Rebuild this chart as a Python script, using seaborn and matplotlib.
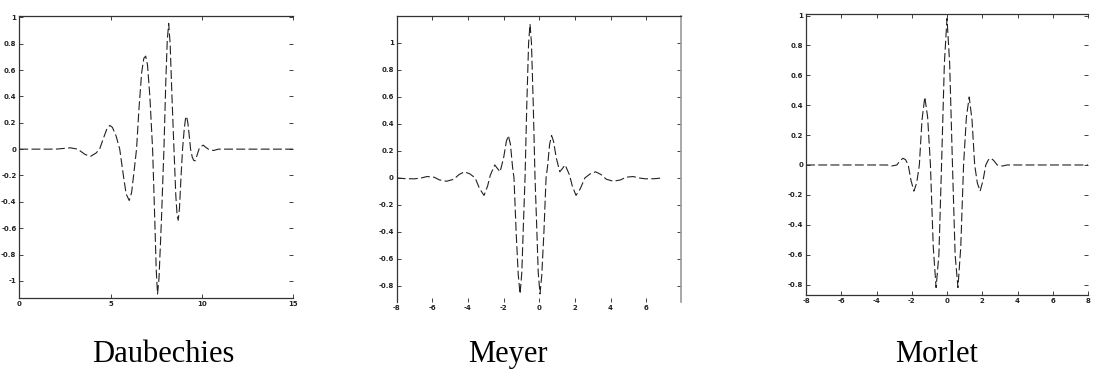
import numpy as np
import pandas as pd
import seaborn as sns
import matplotlib.pyplot as plt

# values
daub_x = [0, 1, 2, 2.4, 2.8, 3.2, 3.6, 3.9, 4.2, 4.4, 4.6, 4.8, 4.96, 5.1, 5.3, 5.5,
          5.7, 5.85, 6.02, 6.15, 6.3, 6.42, 6.55, 6.7, 6.82, 6.92, 7.02, 7.15, 7.3,
          7.4, 7.5, 7.57, 7.65, 7.78, 7.92, 8.02, 8.1, 8.18, 8.26, 8.36, 8.47, 8.57,
          8.64, 8.70, 8.77, 8.86, 8.94, 9.03, 9.1, 9.16, 9.23, 9.3, 9.38, 9.47, 9.55,
          9.62, 9.7, 9.77, 9.84, 9.95, 10.07, 10.2, 10.35, 10.5, 10.65, 10.9, 11.5, 15]
daub_y = [0, 0, 0, 0.005, 0.01, 0.0, -0.04, -0.055, -0.03, 0.0, 0.08, 0.155, 0.18,
          0.165, 0.10, 0.0, -0.2, -0.34, -0.39, -0.33, -0.15, 0.0, 0.3, 0.58, 0.69,
          0.706, 0.64, 0.4, 0.0, -0.45, -0.92, -1.10, -0.98, -0.55, 0.0, 0.5, 0.82,
          0.955, 0.8, 0.4, 0.0, -0.35, -0.5, -0.54, -0.45, -0.2, 0.0, 0.15, 0.23, 0.25,
          0.2, 0.11, 0.0, -0.06, -0.085, -0.089, -0.06, -0.03, 0.0, 0.02, 0.03, 0.015,
          0.0, -0.008, -0.01, 0.0, 0, 0]

meyer_x = [-8.0, -7.5, -7.0, -6.6, -6.3, -5.9, -5.6, -5.2, -4.8, -4.5, -4.2, -3.9,
           -3.6, -3.35, -3.1, -2.9, -2.75, -2.5, -2.35, -2.2, -2.0, -1.85, -1.74,
           -1.62, -1.5, -1.42, -1.3, -1.18, -1.08, -0.98, -0.88, -0.8, -0.7, -0.6,
           -0.52, -0.44, -0.34, -0.24, -0.16, -0.06, 0.04, 0.14, 0.26, 0.38, 0.46,
           0.58, 0.69, 0.8, 0.95, 1.15, 1.3, 1.45, 1.7, 1.85, 2.06, 2.3, 2.56, 2.86,
           3.16, 3.46, 3.76, 4.16, 4.56, 4.86, 5.26, 5.56, 5.96, 6.46, 6.96]
meyer_y = [0.0, -0.006, -0.007, 0.0, 0.01, 0.005, -0.015, -0.025, -0.01, 0.025, 0.045,
           0.03, 0.0, -0.08, -0.13, -0.06, 0.02, 0.096, 0.07, 0.045, 0.15, 0.27, 0.314,
           0.25, 0.08, 0.0, -0.4, -0.72, -0.86, -0.7, -0.3, 0.0, 0.55, 1.0, 1.14, 1.0,
           0.55, 0.0, -0.3, -0.7, -0.86, -0.72, -0.4, 0.0, 0.08, 0.25, 0.314, 0.27,
           0.15, 0.045, 0.07, 0.096, 0.02, -0.06, -0.13, -0.08, 0.0, 0.03, 0.045,
           0.025, -0.01, -0.025, -0.015, 0.005, 0.01, 0.0, -0.007, -0.006, 0.0]

morlet_x = [-8, -3.4, -3.15, -2.85, -2.65, -2.5, -2.35, -2.2, -2.05, -1.88, -1.72,
            -1.57, -1.42, -1.26, -1.1, -0.94, -0.78, -0.62, -0.46, -0.31, -0.15, 0,
            0.15, 0.31, 0.46, 0.62, 0.78, 0.94, 1.1, 1.26, 1.42, 1.57, 1.72, 1.88,
            2.05, 2.2, 2.35, 2.5, 2.65, 2.85, 3.15, 3.4, 8]
morlet_y = [0, 0, -0.007, 0.0, 0.03, 0.045, 0.035, 0.0, -0.1, -0.175, -0.12, 0.0,
            0.3, 0.455, 0.32, 0.0, -0.55, -0.82, -0.6, 0.0, 0.68, 0.98, 0.68, 0.0,
            -0.6, -0.82, -0.55, 0.0, 0.32, 0.455, 0.3, 0.0, -0.12, -0.175, -0.1, 0.0,
            0.035, 0.045, 0.03, 0.0, -0.007, 0, 0]

names = ['Daubechies', 'Meyer', 'Morlet']
xticks = [[0, 5, 10, 15], [-8, -6, -4, -2, 0, 2, 4, 6], [-8, -6, -4, -2, 0, 2, 4, 6, 8]]
yticks = [[-1, -0.8, -0.6, -0.4, -0.2, 0, 0.2, 0.4, 0.6, 0.8, 1],
          [-0.8, -0.6, -0.4, -0.2, 0, 0.2, 0.4, 0.6, 0.8, 1],
          [-0.8, -0.6, -0.4, -0.2, 0, 0.2, 0.4, 0.6, 0.8, 1]]

sns.set_style('ticks')
plt.rcParams['font.family'] = ['DejaVu Sans']

fig = plt.figure(figsize=(10.95, 3.69), dpi=100)
boxes = [[0.0176, 0.1924, 0.2502, 0.764],
         [0.3623, 0.1816, 0.2596, 0.775],
         [0.7361, 0.2005, 0.2575, 0.7615]]
limits = [((0, 15), (-1.13, 1.01)), ((-8, 7.95), (-0.92, 1.2)), ((-8, 8), (-0.87, 1.01))]
data = [(daub_x, daub_y), (meyer_x, meyer_y), (morlet_x, morlet_y)]
centers = [163, 508, 937]

for i in range(3):
    ax = fig.add_axes(boxes[i])
    df = pd.DataFrame({'x': data[i][0], 'y': data[i][1]})
    sns.lineplot(data=df, x='x', y='y', ax=ax, color='#222222', lw=0.8,
                 linestyle=(0, (8, 3)), estimator=None, sort=False)
    ax.set_xlim(limits[i][0])
    ax.set_ylim(limits[i][1])
    ax.set_xticks(xticks[i])
    ax.set_yticks(yticks[i])
    ax.set_xticklabels([f'{t:g}' for t in xticks[i]])
    ax.set_yticklabels([f'{t:g}' for t in yticks[i]])
    ax.set_xlabel('')
    ax.set_ylabel('')
    ax.tick_params(direction='in', length=3, width=0.6, labelsize=5, pad=2,
                   top=True, right=True, colors='#222222')
    for lab in ax.get_xticklabels() + ax.get_yticklabels():
        lab.set_fontweight('bold')
    for s in ax.spines.values():
        s.set_linewidth(0.9)
        s.set_color('#333333')
    if i == 1:
        ax.spines['bottom'].set_visible(False)
        ax.spines['right'].set_color('#999999')
        ax.spines['right'].set_linewidth(1.2)
    else:
        ax.spines['right'].set_visible(False)
    fig.text(centers[i] / 1095, (369 - 362) / 369, names[i], ha='center',
             va='baseline', fontsize=22, color='black', family=['Liberation Serif'])

fig.savefig('out.png', dpi=100)
